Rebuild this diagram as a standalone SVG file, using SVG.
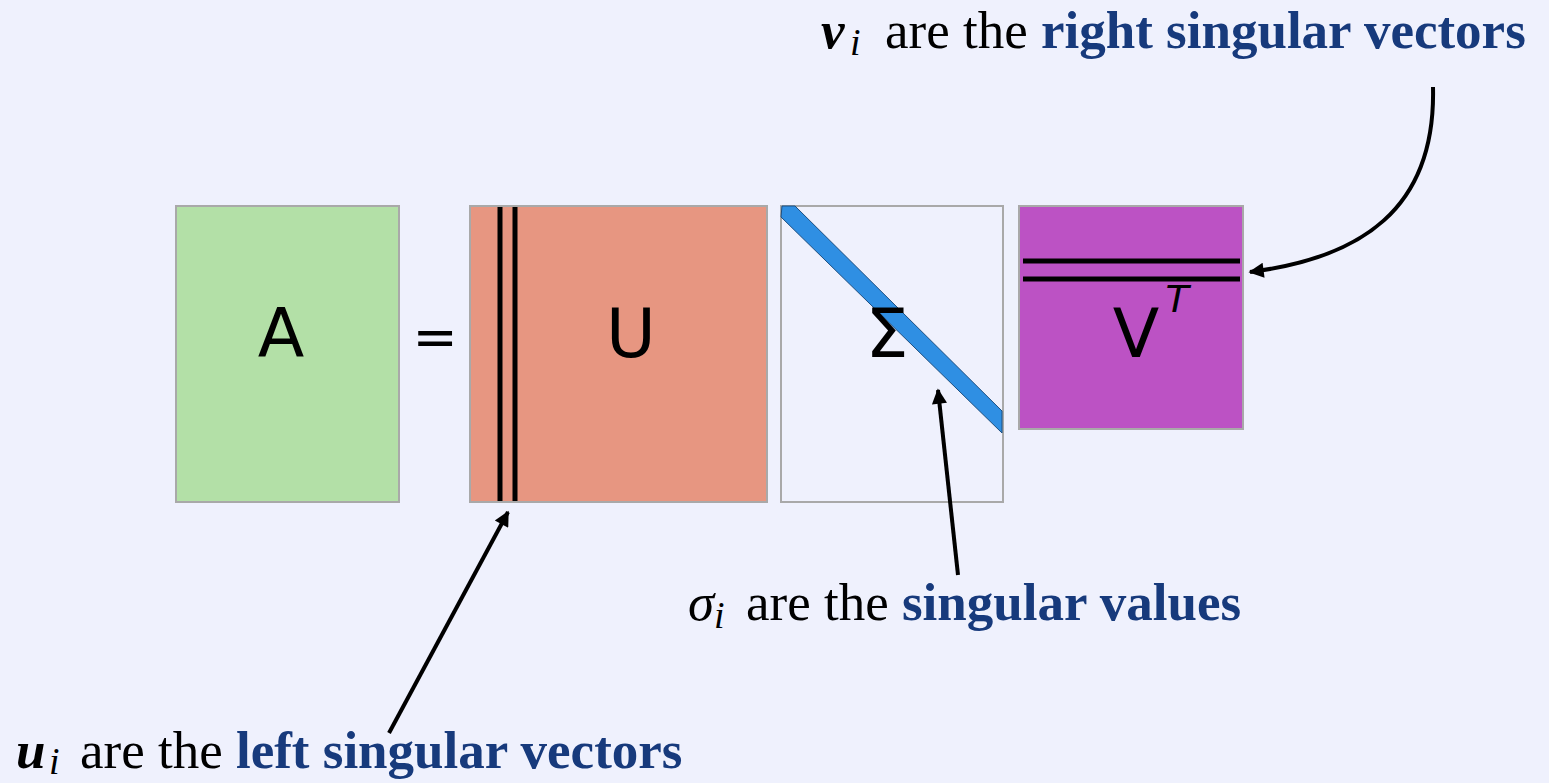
<svg xmlns="http://www.w3.org/2000/svg" width="1549" height="783" viewBox="0 0 1549 783">
<style>
.box{stroke:#a9a9a9;stroke-width:2}
.lbl{font-family:"DejaVu Sans",sans-serif;font-size:68px;fill:#000;text-anchor:middle}
.cap{font-family:"Liberation Serif",serif;font-size:53px;fill:#000}
.m{font-style:italic;font-weight:bold}
.sub{font-style:italic;font-size:38px}
.b{font-weight:bold;fill:#173a7c}
.vec{stroke:#000;stroke-width:5}
.conn{stroke:#000;stroke-width:4;fill:none;marker-end:url(#ah)}
</style>
<defs>
<marker id="ah" viewBox="0 0 10 10" refX="9" refY="5" markerWidth="4.4" markerHeight="3.8" markerUnits="strokeWidth" orient="auto">
<path d="M0,0 L10,5 L0,10 z" fill="#000"/>
</marker>
</defs>
<rect width="1549" height="783" fill="#eff1fd"/>
<g id="A">
<rect class="box" x="176" y="206" width="223" height="296" fill="#b3e0a7"/>
<text class="lbl" x="281" y="357">A</text>
</g>
<g id="eq">
<text x="435" y="355" font-family="DejaVu Sans, sans-serif" font-size="54" text-anchor="middle">=</text>
</g>
<g id="U">
<rect class="box" x="470" y="206" width="297" height="296" fill="#e79681"/>
<line class="vec" x1="500" y1="207" x2="500" y2="501"/>
<line class="vec" x1="515" y1="207" x2="515" y2="501"/>
<text class="lbl" x="631" y="357">U</text>
</g>
<g id="Sigma">
<rect class="box" x="781" y="206" width="222" height="296" fill="none" stroke="#b0b0b4"/>
<polygon points="782,206 795,206 1002,411 1002,433 781,217" fill="#2f8fe3" stroke="#1d4f80" stroke-width="1"/>
<text class="lbl" x="887" y="357" font-size="72">Σ</text>
</g>
<g id="VT">
<rect class="box" x="1019" y="206" width="224" height="223" fill="#bc52c4"/>
<line class="vec" x1="1023" y1="261" x2="1240" y2="261"/>
<line class="vec" x1="1023" y1="279" x2="1240" y2="279"/>
<text class="lbl" x="1136" y="357">V</text>
<text x="1177" y="312" font-family="DejaVu Sans, sans-serif" font-style="italic" font-size="38" text-anchor="middle">T</text>
</g>
<g id="connectors">
<path class="conn" d="M1433,87 C1436,210 1360,258 1250,272"/>
<path class="conn" d="M389,733 L508,512"/>
<path class="conn" d="M958,575 L938,390"/>
</g>
<g id="label-v">
<text class="cap" y="48"><tspan class="m" x="821">v</tspan><tspan class="sub" x="850" dy="7">i</tspan><tspan x="885" dy="-7">are the </tspan><tspan class="b">right singular vectors</tspan></text>
</g>
<g id="label-sigma">
<text class="cap" y="620"><tspan x="688" font-style="italic">σ</tspan><tspan class="sub" x="714" dy="8">i</tspan><tspan x="746" dy="-8">are the </tspan><tspan class="b">singular values</tspan></text>
</g>
<g id="label-u">
<text class="cap" y="768"><tspan class="m" x="16">u</tspan><tspan class="sub" x="49" dy="6">i</tspan><tspan x="80" dy="-6">are the </tspan><tspan class="b">left singular vectors</tspan></text>
</g>
</svg>
